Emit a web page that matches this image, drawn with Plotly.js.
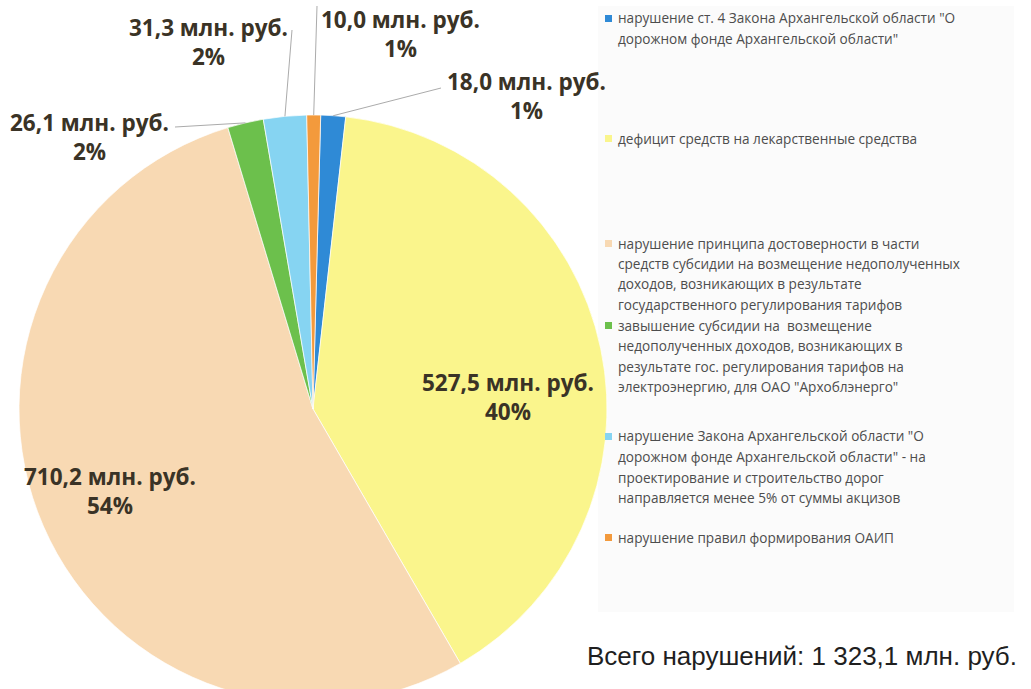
<!DOCTYPE html>
<html><head><meta charset="utf-8">
<script src="https://cdn.plot.ly/plotly-3.0.1.min.js"></script>
<style>html,body{margin:0;padding:0;background:#fff;overflow:hidden}</style>
</head><body><div id="chart" style="width:1031px;height:704px"></div>
<script>
// ---------- data ----------
const categories = [
  'нарушение ст. 4 Закона Архангельской области "О<br>дорожном фонде Архангельской области"',
  'дефицит средств на лекарственные средства',
  'нарушение принципа достоверности в части<br>средств субсидии на возмещение недополученных<br>доходов, возникающих в результате<br>государственного регулирования тарифов',
  'завышение субсидии на  возмещение<br>недополученных доходов, возникающих в<br>результате гос. регулирования тарифов на<br>электроэнергию, для ОАО "Архоблэнерго"',
  'нарушение Закона Архангельской области "О<br>дорожном фонде Архангельской области" - на<br>проектирование и строительство дорог<br>направляется менее 5% от суммы акцизов',
  'нарушение правил формирования ОАИП'
];
const values = [18.0, 527.5, 710.2, 26.1, 31.3, 10.0];
const unit = 'млн. руб.';
const totalPrefix = 'Всего нарушений:';
const colors = ['#2f8ad6', '#faf58c', '#f8d9b3', '#6cc04c', '#86d4f2', '#f39a3c'];

// ---------- geometry (pixels) ----------
// the figure is slightly taller than the 689px window; the pie is cut at the bottom as in the original
const W = 1031, H = 704;
const cx = 313, cy = 409, R = 294;
const rotation = 1.5;
const px = x => x / W;
const py = y => 1 - y / H;

// label centres & leader anchors (pixels)
const labelPos = [
  {x: 526, y: 96,  lx: 441, ly: 88},
  {x: 508, y: 397},
  {x: 110, y: 491},
  {x: 89,  y: 137, lx: 175, ly: 127},
  {x: 208, y: 42,  lx: 292, ly: 30},
  {x: 400, y: 34,  lx: 317, ly: 6}
];
// legend rows (first line centre y, pixels)
const legendY = [18, 138, 243, 325, 436, 537];
const legendLineGap = 20.5;

const total = values.reduce((a, b) => a + b, 0);
const fmt1 = v => v.toFixed(1).replace('.', ',');
const fmtTotal = v => {
  const [i, d] = v.toFixed(1).split('.');
  return i.replace(/\B(?=(\d{3})+(?!\d))/g, ' ') + ',' + d;
};

const annotations = [];
const shapes = [];

// legend background panel (very faint)
shapes.push({type: 'rect', xref: 'paper', yref: 'paper', layer: 'below',
  x0: px(598), x1: px(1014), y0: py(612), y1: py(6),
  fillcolor: '#fbfbfb', line: {width: 0}});

// data labels + leader lines
let cum = 0;
values.forEach((v, i) => {
  const pct = Math.round(v / total * 100);
  const mid = rotation * Math.PI / 180 + (cum + v / 2) / total * 2 * Math.PI;
  cum += v;
  const p = labelPos[i];
  annotations.push({xref: 'paper', yref: 'paper', x: px(p.x), y: py(p.y),
    xanchor: 'center', yanchor: 'middle', showarrow: false, align: 'center',
    text: fmt1(v) + ' ' + unit + '<br>' + pct + '%',
    font: {family: 'Open Sans, sans-serif', size: 22.5, color: '#3a3326', weight: 'bold'}});
  if (p.lx !== undefined) {
    const ex = cx + R * Math.sin(mid), ey = cy - R * Math.cos(mid);
    shapes.push({type: 'line', xref: 'paper', yref: 'paper',
      x0: px(ex), y0: py(ey), x1: px(p.lx), y1: py(p.ly),
      line: {color: '#ababab', width: 1}});
  }
});

// custom legend
categories.forEach((c, i) => {
  const y0 = legendY[i];
  shapes.push({type: 'rect', xref: 'paper', yref: 'paper',
    x0: px(605), x1: px(612), y0: py(y0 + 4), y1: py(y0 - 3),
    fillcolor: colors[i], line: {width: 0}});
  c.split('<br>').forEach((line, k) => {
    annotations.push({xref: 'paper', yref: 'paper', x: px(616), y: py(y0 + k * legendLineGap),
      xanchor: 'left', yanchor: 'middle', showarrow: false, align: 'left',
      text: line, font: {family: 'Open Sans, sans-serif', size: 13.6, color: '#4d4d4d'}});
  });
});

// total
annotations.push({xref: 'paper', yref: 'paper', x: px(585), y: py(656),
  xanchor: 'left', yanchor: 'middle', showarrow: false,
  text: totalPrefix + ' ' + fmtTotal(total) + ' ' + unit,
  font: {family: 'Liberation Sans, Arial, sans-serif', size: 26, color: '#1f1f1f'}});

const trace = {
  type: 'pie',
  labels: categories,
  values: values,
  sort: false,
  direction: 'clockwise',
  rotation: rotation,
  marker: {colors: colors, line: {color: 'rgba(255,255,255,0.7)', width: 1}},
  textinfo: 'none',
  hoverinfo: 'label+value+percent',
  showlegend: false,
  domain: {x: [px(cx - R), px(cx + R)], y: [py(cy + R), py(cy - R)]}
};

const layout = {
  width: W, height: H,
  margin: {l: 0, r: 0, t: 0, b: 0},
  paper_bgcolor: '#ffffff',
  showlegend: false,
  shapes: shapes,
  annotations: annotations
};

Plotly.newPlot('chart', [trace], layout, {displayModeBar: false, staticPlot: true});
</script>
</body></html>
